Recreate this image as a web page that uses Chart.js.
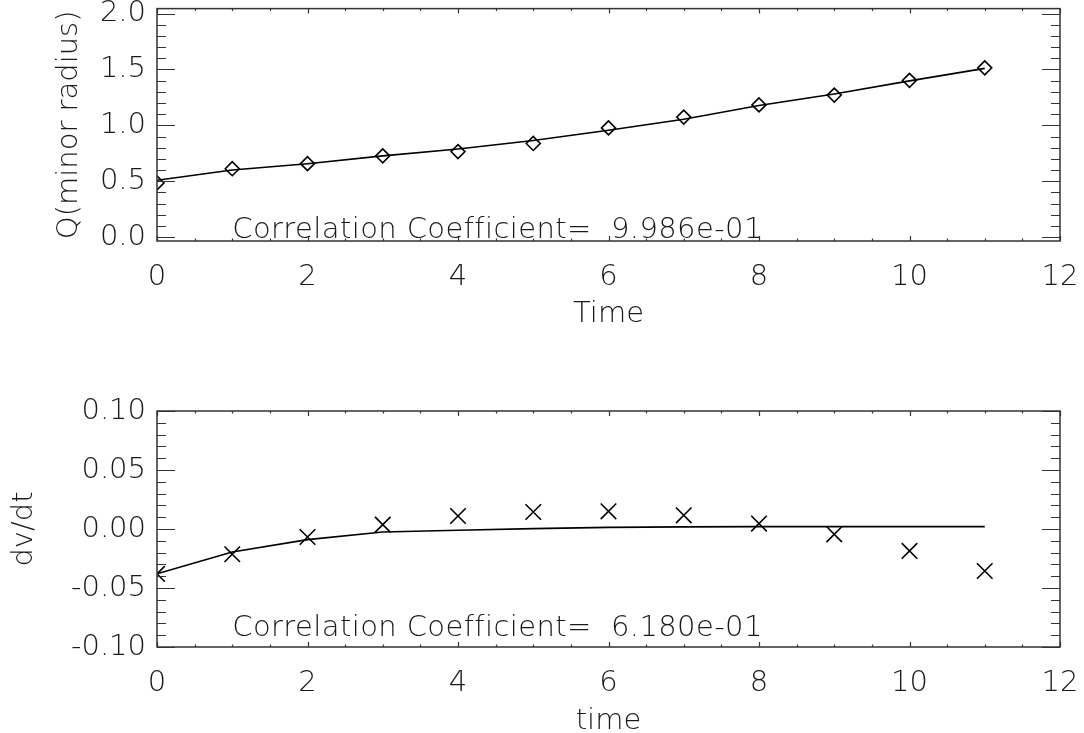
<!DOCTYPE html>
<html><head><meta charset="utf-8">
<script src="https://cdn.jsdelivr.net/npm/chart.js@4/dist/chart.umd.min.js"></script>
<style>
html,body{margin:0;padding:0;background:#fff;overflow:hidden;width:1084px;height:733px;}
#c1{position:absolute;left:0;top:0;}
#c2{position:absolute;left:0;top:370px;}
</style></head><body>
<canvas id="c1" width="1084" height="340"></canvas>
<canvas id="c2" width="1084" height="380"></canvas>
<script>
// ---- data ----
const times = [0,1,2,3,4,5,6,7,8,9,10,11];
const qData = [0.485,0.612,0.657,0.727,0.765,0.838,0.977,1.074,1.183,1.271,1.403,1.515];
const qFit  = [0.509,0.600,0.657,0.727,0.789,0.865,0.956,1.054,1.177,1.280,1.398,1.510];
const dvData = [-0.038,-0.0214,-0.0068,0.0037,0.011,0.0144,0.015,0.0116,0.0046,-0.0045,-0.0186,-0.0356];
const dvFit  = [-0.038,-0.0195,-0.009,-0.0025,-0.0011,0.0003,0.0014,0.0018,0.0020,0.0020,0.0020,0.0020];
const xTickLabels = [0,2,4,6,8,10,12];
const qTickLabels = [0.0,0.5,1.0,1.5,2.0];
const dvTickLabels = [-0.10,-0.05,0.00,0.05,0.10];
const qNote = 'Correlation Coefficient=  9.986e-01';
const dvNote = 'Correlation Coefficient=  6.180e-01';
const qNotePos = [1.0, -0.012];
const dvNotePos = [1.0, -0.091];

const FONT = '"DejaVu Sans", "Liberation Sans", sans-serif';
const INK = '#1a1a1a';

const idlFrame = {
  id: 'idlFrame',
  afterDraw(chart, args, o) {
    const ctx = chart.ctx, a = chart.chartArea;
    const xs = chart.scales.x, ys = chart.scales.y;
    ctx.save();
    ctx.strokeStyle = '#333';
    ctx.lineWidth = 1.5;
    ctx.strokeRect(a.left, a.top, a.right - a.left, a.bottom - a.top);
    ctx.lineWidth = 1.2;
    const isMajor = (v, arr) => arr.some(m => Math.abs(m - v) < 1e-9);
    ctx.beginPath();
    for (let k = Math.ceil(xs.min / o.xMinor - 1e-9); k * o.xMinor <= xs.max + 1e-9; k++) {
      const v = k * o.xMinor;
      const p = Math.round(xs.getPixelForValue(v)) + 0.5;
      const L = isMajor(v, o.xMajor) ? 5 : 2.5;
      ctx.moveTo(p, a.bottom); ctx.lineTo(p, a.bottom - L);
      ctx.moveTo(p, a.top); ctx.lineTo(p, a.top + L);
    }
    for (let k = Math.ceil(ys.min / o.yMinor - 1e-9); k * o.yMinor <= ys.max + 1e-9; k++) {
      const v = k * o.yMinor;
      const p = Math.round(ys.getPixelForValue(v)) + 0.5;
      const L = isMajor(v, o.yMajor) ? 18 : 9;
      ctx.moveTo(a.left, p); ctx.lineTo(a.left + L, p);
      ctx.moveTo(a.right, p); ctx.lineTo(a.right - L, p);
    }
    ctx.stroke();
    ctx.fillStyle = INK;
    ctx.font = '200 29px ' + FONT;
    ctx.textAlign = 'left';
    ctx.textBaseline = 'alphabetic';
    try { ctx.letterSpacing = '0.4px'; } catch (e) {}
    ctx.fillText(o.note, xs.getPixelForValue(o.notePos[0]), ys.getPixelForValue(o.notePos[1]));
    ctx.restore();
  }
};

function makePanel(canvas, p) {
  return new Chart(canvas, {
    type: 'scatter',
    data: {
      datasets: [
        { data: times.map((t, i) => ({x: t, y: p.fit[i]})), showLine: true, pointRadius: 0,
          borderColor: '#000', borderWidth: 1.6, clip: 0, tension: 0 },
        { data: times.map((t, i) => ({x: t, y: p.data[i]})), showLine: false,
          pointStyle: p.marker, pointRadius: p.radius, pointBorderWidth: 1.6,
          pointBorderColor: '#000', pointBackgroundColor: 'rgba(0,0,0,0)', clip: 0 }
      ]
    },
    options: {
      responsive: false, animation: false, events: [],
      layout: { padding: { top: p.padTop, right: 24, left: 0, bottom: 0 } },
      plugins: { legend: { display: false }, tooltip: { enabled: false },
        idlFrame: { xMinor: 0.5, xMajor: xTickLabels, yMinor: p.yMinor, yMajor: p.yTicks,
                    note: p.note, notePos: p.notePos } },
      scales: {
        x: {
          type: 'linear', min: 0, max: 12,
          afterBuildTicks: s => { s.ticks = xTickLabels.map(v => ({value: v})); },
          afterFit: s => { s.height = p.xAxisH; s.paddingLeft = 0; s.paddingRight = 0; },
          grid: { display: false, drawTicks: false }, border: { display: false },
          ticks: { padding: 19, color: INK, font: { family: FONT, size: 29, weight: '200' },
                   callback: v => String(v), maxRotation: 0, autoSkip: false },
          title: { display: true, text: p.xTitle, color: INK,
                   font: { family: FONT, size: 29, weight: '200' }, padding: { top: 0, bottom: p.xTitlePad } }
        },
        y: {
          type: 'linear', min: p.yMin, max: p.yMax,
          afterBuildTicks: s => { s.ticks = p.yTicks.map(v => ({value: v})); },
          afterFit: s => { s.width = 157; s.paddingTop = 0; s.paddingBottom = 0; },
          grid: { display: false, drawTicks: false }, border: { display: false },
          ticks: { padding: 11, color: INK, font: { family: FONT, size: 29, weight: '200' },
                   callback: v => v.toFixed(p.dec), autoSkip: false },
          title: { display: true, text: p.yTitle, color: INK,
                   font: { family: FONT, size: 29, weight: '200' }, padding: { top: p.yTitlePad, bottom: 0 } }
        }
      }
    },
    plugins: [idlFrame]
  });
}

makePanel(document.getElementById('c1'), {
  data: qData, fit: qFit, marker: 'rectRot', radius: 7,
  yMin: -0.035, yMax: 2.045, yTicks: qTickLabels, yMinor: 0.1, dec: 1,
  padTop: 5, xAxisH: 99, xTitle: 'Time', xTitlePad: 8, yTitle: 'Q(minor radius)', yTitlePad: 52,
  note: qNote, notePos: qNotePos
});
makePanel(document.getElementById('c2'), {
  data: dvData, fit: dvFit, marker: 'crossRot', radius: 11,
  yMin: -0.1, yMax: 0.1, yTicks: dvTickLabels, yMinor: 0.01, dec: 2,
  padTop: 41, xAxisH: 103, xTitle: 'time', xTitlePad: 11, yTitle: 'dv/dt', yTitlePad: 7,
  note: dvNote, notePos: dvNotePos
});
</script>
</body></html>
